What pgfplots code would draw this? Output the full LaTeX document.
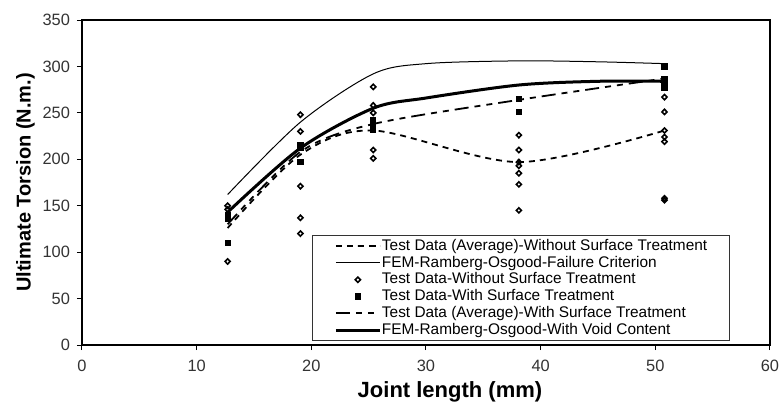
\documentclass[border=0pt]{standalone}
\usepackage{fontspec}
\setmainfont{Liberation Sans}
\usepackage{pgfplots}
\pgfplotsset{compat=1.18}

\begin{document}
\begin{tikzpicture}
\useasboundingbox (-41pt,-32pt) rectangle (350.5pt,172.5pt);
\begin{axis}[
  at={(0,0)}, anchor=origin,
  scale only axis, width=344pt, height=162.5pt,
  xmin=0, xmax=60, ymin=0, ymax=350,
  xtick={0,10,...,60}, ytick={0,50,...,350},
  tick align=outside, xtick pos=bottom, ytick pos=left,
  major tick length=2.5pt,
  tick style={black, line width=0.5pt},
  axis line style={line width=0.6pt},
  /pgf/number format/assume math mode=true,
  tick label style={font=\fontsize{8.2}{9}\selectfont, text=black!80},
  xticklabel style={yshift=-1.5pt},
  xlabel={\bfseries Joint length (mm)},
  ylabel={\bfseries Ultimate Torsion (N.m.)},
  xlabel style={font=\fontsize{11}{13}\selectfont, yshift=2pt, xshift=12pt},
  ylabel style={font=\fontsize{10}{12}\selectfont, yshift=-3pt},
  legend cell align=left,
  legend image code/.code={\draw[mark repeat=2,mark phase=2,#1] plot coordinates {(0pt,0pt)(11pt,0pt)(22pt,0pt)};},
  legend style={at={(0.334,0.338)}, anchor=north west,
    font=\fontsize{7.7}{9}\selectfont, draw=black!80, line width=0.6pt,
    inner xsep=11pt, inner ysep=1pt,
    nodes={inner sep=0.3pt, text height=6pt, text depth=1.8pt},
    /tikz/every even column/.append style={column sep=0.5pt}},
]
% average without surface treatment
\addplot[black, line width=0.9pt, dash pattern=on 3pt off 2.5pt, smooth] coordinates {
  (12.7,126) (19.05,205) (25.4,231) (38.1,197) (50.8,231)
};
% FEM failure criterion
\addplot[black, line width=0.5pt, smooth] coordinates {
  (12.7,162) (19.05,240) (25.4,292) (30,303) (38.1,306) (45,305) (50.8,303)
};
% test data without surface treatment
\addplot[only marks, mark=diamond, mark size=1.3pt, mark options={line width=0.8pt, black, xscale=1.3}] coordinates {
  (12.7,150) (12.7,146) (12.7,90)
  (19.05,248) (19.05,230) (19.05,171) (19.05,137) (19.05,120)
  (25.4,278) (25.4,258) (25.4,250) (25.4,210) (25.4,201)
  (38.1,226) (38.1,210) (38.1,197) (38.1,193) (38.1,185) (38.1,173) (38.1,145)
  (50.8,267) (50.8,251) (50.8,231) (50.8,224) (50.8,219) (50.8,158) (50.8,156)
};
% test data with surface treatment
\addplot[only marks, mark=square*, mark size=1.3pt, mark options={black}] coordinates {
  (12.7,140) (12.7,136) (12.7,110)
  (19.05,215) (19.05,212) (19.05,197)
  (25.4,242) (25.4,237) (25.4,232)
  (38.1,265) (38.1,251)
  (50.8,300) (50.8,286) (50.8,283) (50.8,277)
};
% average with surface treatment
\addplot[black, line width=0.9pt, dash pattern=on 7pt off 3pt on 3pt off 3pt on 3pt off 3pt, smooth] coordinates {
  (12.7,130) (19.05,208) (25.4,238) (38.1,264) (50.8,287)
};
% FEM with void content
\addplot[black, line width=1.5pt, smooth] coordinates {
  (12.7,143) (19.05,212) (25.4,255) (30,266) (38.1,280) (45,284) (50.8,284)
};
\legend{Test Data (Average)-Without Surface Treatment,
  FEM-Ramberg-Osgood-Failure Criterion,
  Test Data-Without Surface Treatment,
  Test Data-With Surface Treatment,
  Test Data (Average)-With Surface Treatment,
  FEM-Ramberg-Osgood-With Void Content}
\end{axis}
\end{tikzpicture}
\end{document}
